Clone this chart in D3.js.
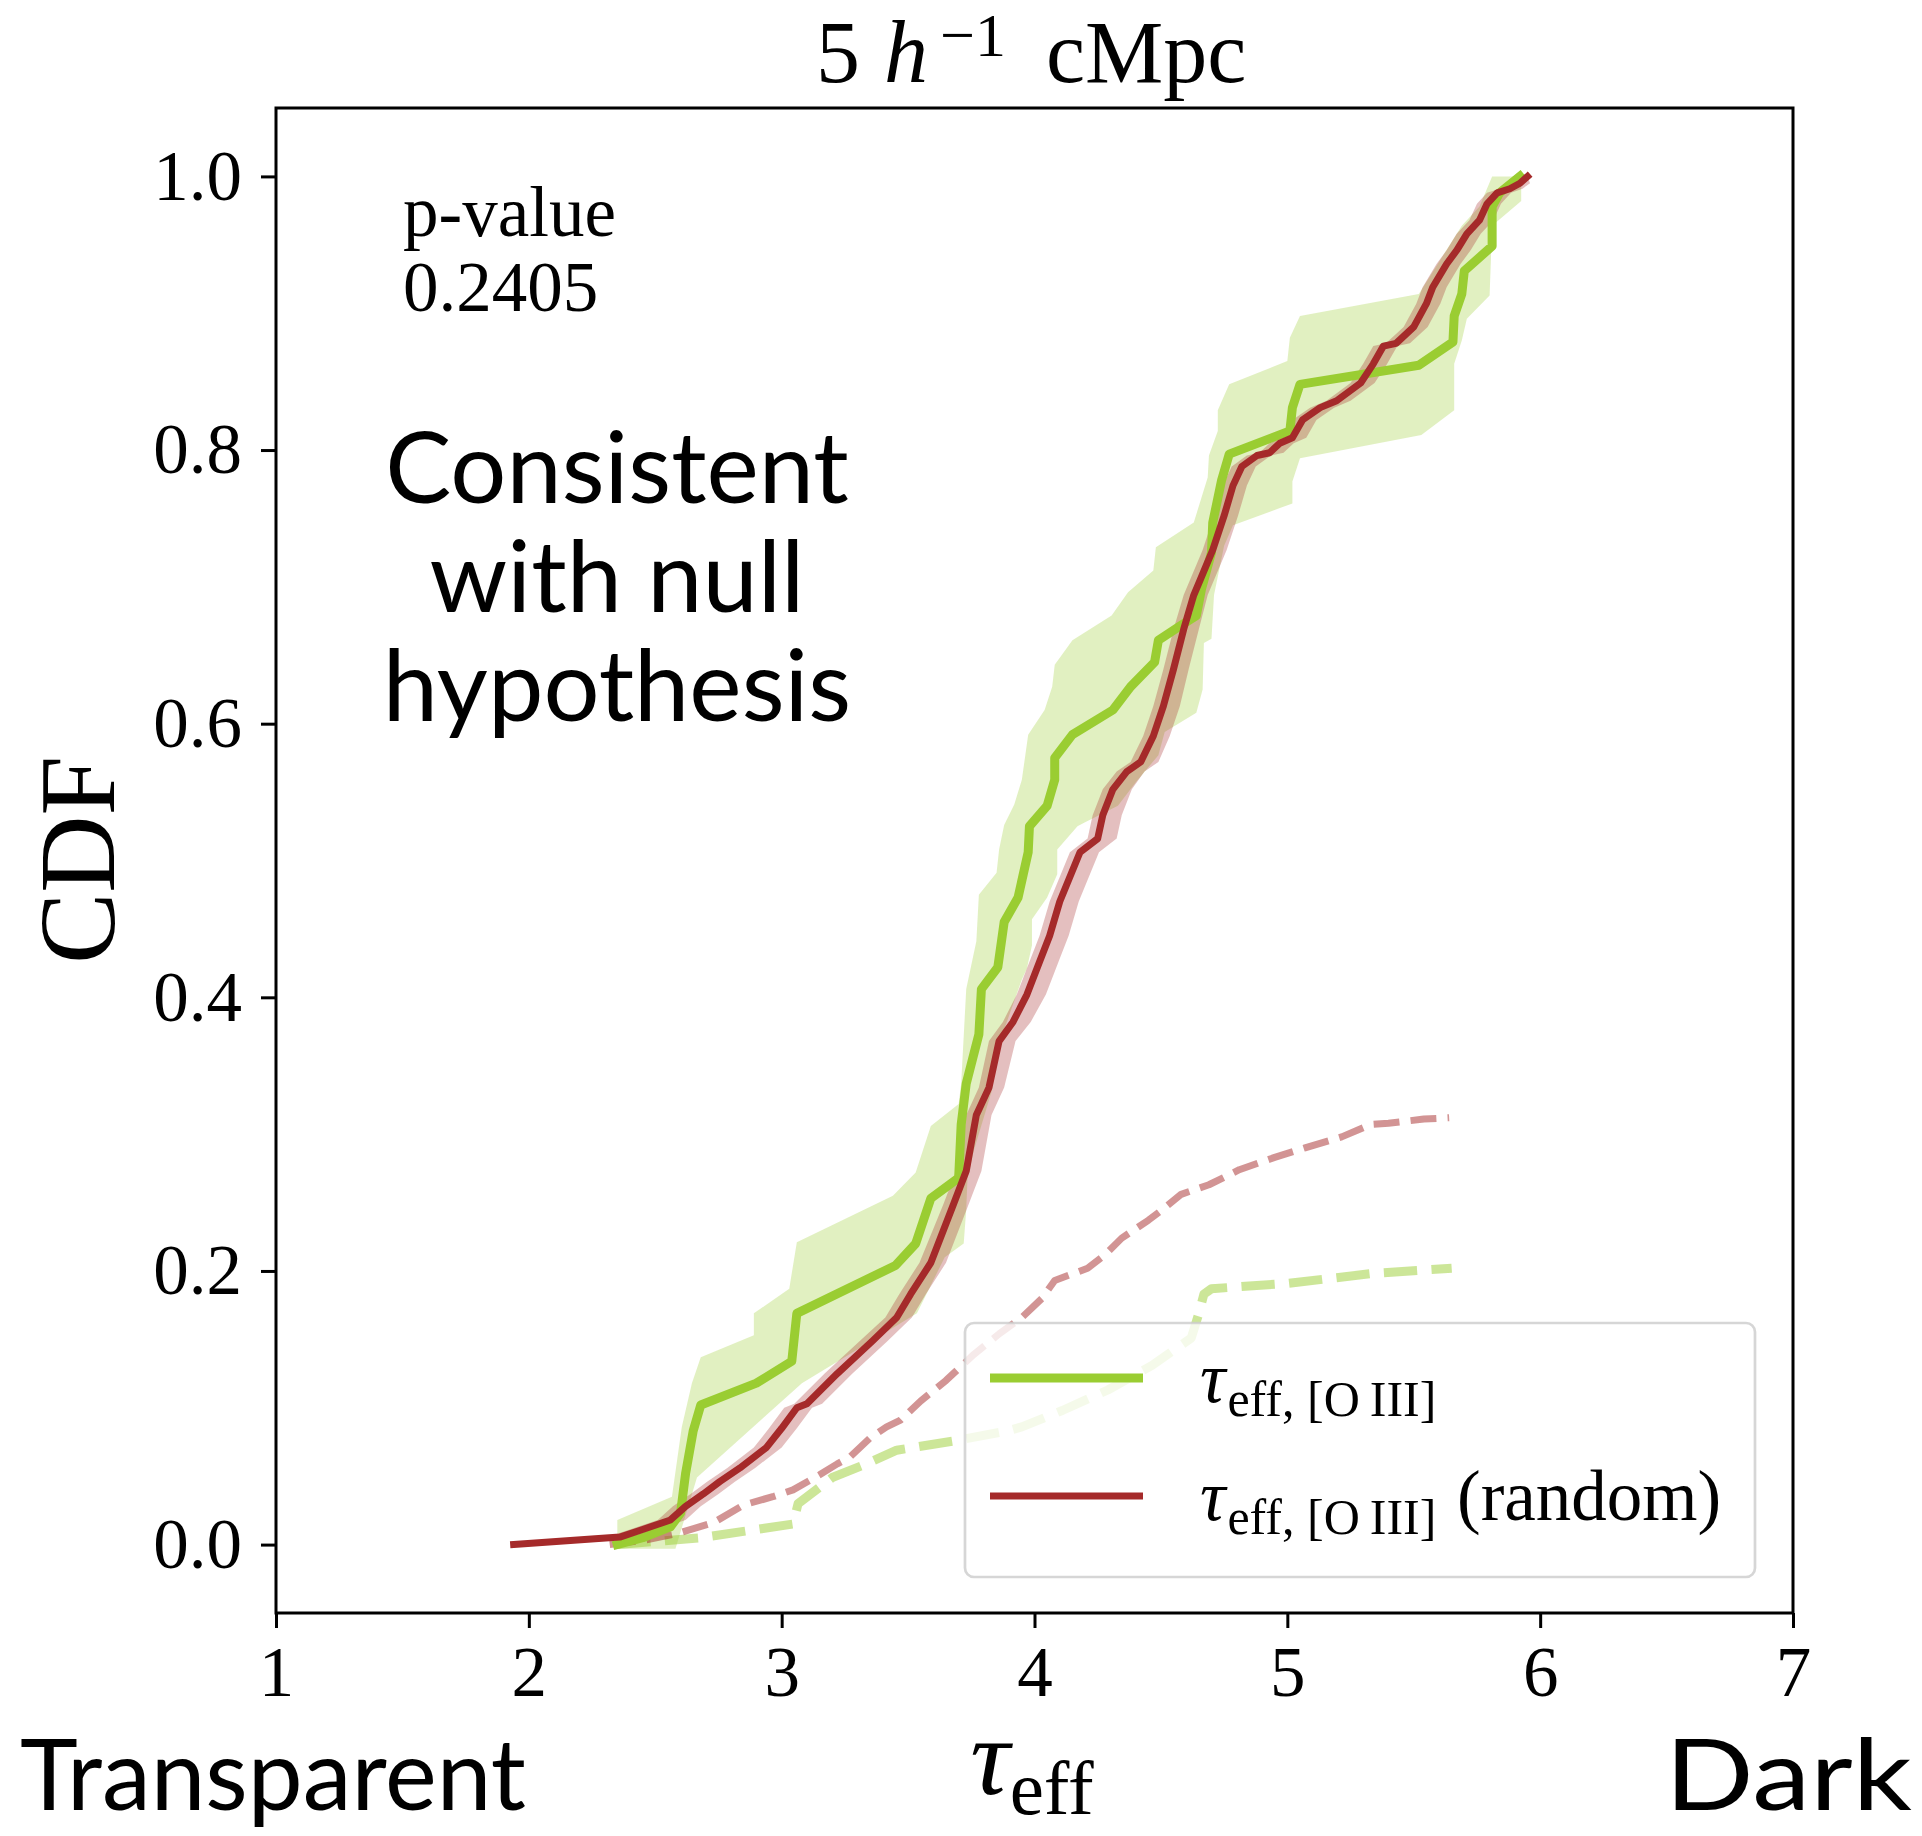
<!DOCTYPE html>
<html>
<head>
<meta charset="utf-8">
<script src="https://cdn.jsdelivr.net/npm/d3@7/dist/d3.min.js"></script>
<style>
  body { margin: 0; background: #fff; }
  svg text { font-family: "Liberation Serif", "Times New Roman", serif; fill: #000; }
  svg text.sans { font-family: Lato, "Open Sans", sans-serif; }
</style>
</head>
<body>
<div id="cdf-chart"></div>
<script>
// ---- values ----
const xTicks = [1, 2, 3, 4, 5, 6, 7];
const yTicks = [0.0, 0.2, 0.4, 0.6, 0.8, 1.0];

// tau_eff,[OIII] CDF (green)
const oiiiTau = [2.35, 2.45, 2.56, 2.60, 2.62, 2.65, 2.68, 2.90, 3.04, 3.06, 3.45, 3.53, 3.59, 3.70, 3.71, 3.73, 3.78, 3.79, 3.855, 3.88, 3.935, 3.975, 3.98, 4.05, 4.08, 4.08, 4.15, 4.31, 4.38, 4.475, 4.49, 4.58, 4.64, 4.66, 4.70, 4.705, 4.74, 4.77, 5.01, 5.02, 5.05, 5.52, 5.655, 5.66, 5.69, 5.70, 5.81, 5.81, 5.84, 5.92];
const oiiiCdf = [0.000, 0.005, 0.013, 0.023, 0.052, 0.083, 0.102, 0.118, 0.134, 0.169, 0.204, 0.220, 0.253, 0.268, 0.307, 0.337, 0.373, 0.406, 0.422, 0.455, 0.473, 0.506, 0.525, 0.540, 0.559, 0.575, 0.592, 0.610, 0.627, 0.645, 0.661, 0.672, 0.679, 0.698, 0.725, 0.747, 0.778, 0.797, 0.814, 0.831, 0.848, 0.862, 0.879, 0.898, 0.914, 0.931, 0.949, 0.978, 0.988, 1.000];

// green band, left edge (bottom -> top) and right edge (top -> bottom)
const oiiiBandLeftX = [2.35, 2.35, 2.566, 2.605, 2.645, 2.68, 2.89, 2.89, 3.03, 3.06, 3.44, 3.53, 3.59, 3.70, 3.71, 3.73, 3.77, 3.78, 3.85, 3.86, 3.88, 3.92, 3.95, 3.975, 4.04, 4.07, 4.08, 4.15, 4.305, 4.37, 4.47, 4.48, 4.63, 4.685, 4.69, 4.725, 4.725, 4.77, 5.00, 5.01, 5.05, 5.52, 5.69, 5.76, 5.81];
const oiiiBandLeftY = [-0.003, 0.018, 0.035, 0.086, 0.118, 0.137, 0.153, 0.169, 0.187, 0.221, 0.255, 0.272, 0.306, 0.322, 0.337, 0.406, 0.441, 0.475, 0.491, 0.508, 0.526, 0.541, 0.559, 0.592, 0.610, 0.627, 0.643, 0.661, 0.679, 0.696, 0.712, 0.729, 0.747, 0.780, 0.796, 0.814, 0.829, 0.848, 0.865, 0.882, 0.898, 0.914, 0.964, 0.978, 1.000];
const oiiiBandRightX = [5.925, 5.925, 5.81, 5.80, 5.71, 5.69, 5.66, 5.66, 5.53, 5.05, 5.02, 5.02, 4.785, 4.75, 4.71, 4.70, 4.67, 4.665, 4.64, 4.515, 4.49, 4.40, 4.33, 4.20, 4.17, 4.09, 4.09, 4.05, 3.99, 3.99, 3.97, 3.95, 3.86, 3.83, 3.76, 3.735, 3.73, 3.72, 3.645, 3.535, 3.08, 2.665, 2.58];
const oiiiBandRightY = [1.000, 0.982, 0.964, 0.913, 0.896, 0.880, 0.863, 0.829, 0.811, 0.794, 0.777, 0.761, 0.745, 0.730, 0.694, 0.662, 0.659, 0.625, 0.608, 0.594, 0.577, 0.557, 0.540, 0.528, 0.525, 0.508, 0.490, 0.473, 0.457, 0.438, 0.421, 0.413, 0.366, 0.331, 0.288, 0.268, 0.245, 0.220, 0.210, 0.169, 0.118, 0.049, -0.003];

// tau_eff,[OIII] (random) CDF (red) with its band
const randomTau = [1.94, 2.36, 2.45, 2.56, 2.62, 2.69, 2.755, 2.835, 2.94, 3.00, 3.06, 3.10, 3.22, 3.36, 3.455, 3.51, 3.59, 3.68, 3.73, 3.77, 3.82, 3.86, 3.915, 3.97, 4.02, 4.06, 4.10, 4.18, 4.25, 4.27, 4.31, 4.365, 4.42, 4.47, 4.51, 4.55, 4.59, 4.63, 4.655, 4.705, 4.75, 4.785, 4.82, 4.88, 4.93, 4.97, 5.02, 5.06, 5.13, 5.195, 5.29, 5.34, 5.38, 5.43, 5.50, 5.55, 5.575, 5.63, 5.67, 5.71, 5.76, 5.79, 5.83, 5.88, 5.92, 5.95];
const randomCdf = [0.000, 0.0055, 0.011, 0.018, 0.028, 0.037, 0.046, 0.056, 0.071, 0.085, 0.100, 0.103, 0.125, 0.149, 0.166, 0.183, 0.206, 0.249, 0.273, 0.314, 0.334, 0.368, 0.382, 0.402, 0.426, 0.445, 0.470, 0.506, 0.516, 0.533, 0.552, 0.565, 0.572, 0.591, 0.613, 0.640, 0.669, 0.694, 0.705, 0.727, 0.752, 0.774, 0.788, 0.796, 0.798, 0.805, 0.809, 0.822, 0.831, 0.836, 0.849, 0.863, 0.876, 0.878, 0.890, 0.907, 0.919, 0.936, 0.946, 0.958, 0.968, 0.980, 0.988, 0.991, 0.995, 1.000];
const randomLo = [1.94, 2.31, 2.40, 2.51, 2.57, 2.64, 2.705, 2.785, 2.89, 2.95, 3.01, 3.05, 3.17, 3.31, 3.41, 3.465, 3.545, 3.64, 3.69, 3.73, 3.78, 3.82, 3.875, 3.93, 3.98, 4.02, 4.06, 4.14, 4.21, 4.23, 4.27, 4.325, 4.38, 4.43, 4.47, 4.51, 4.55, 4.59, 4.615, 4.665, 4.71, 4.745, 4.78, 4.84, 4.89, 4.93, 4.98, 5.02, 5.09, 5.155, 5.25, 5.30, 5.34, 5.39, 5.46, 5.51, 5.535, 5.59, 5.63, 5.67, 5.72, 5.75, 5.79, 5.84, 5.88, 5.95];
const randomHi = [1.94, 2.42, 2.51, 2.62, 2.68, 2.75, 2.815, 2.895, 3.00, 3.06, 3.12, 3.16, 3.28, 3.42, 3.515, 3.57, 3.65, 3.74, 3.79, 3.83, 3.88, 3.925, 3.985, 4.045, 4.095, 4.135, 4.175, 4.255, 4.325, 4.345, 4.385, 4.435, 4.49, 4.535, 4.575, 4.61, 4.65, 4.685, 4.71, 4.76, 4.805, 4.84, 4.875, 4.935, 4.985, 5.025, 5.075, 5.115, 5.185, 5.25, 5.345, 5.395, 5.435, 5.485, 5.555, 5.605, 5.63, 5.685, 5.725, 5.765, 5.815, 5.845, 5.885, 5.93, 5.96, 5.95];

// faint dashed curves
const oiiiDashTau = [2.35, 2.68, 3.045, 3.065, 3.20, 3.335, 3.455, 3.69, 3.89, 3.95, 4.11, 4.29, 4.465, 4.62, 4.65, 4.67, 4.70, 5.005, 5.33, 5.65];
const oiiiDashCdf = [0.000, 0.005, 0.015, 0.030, 0.049, 0.059, 0.069, 0.076, 0.083, 0.086, 0.098, 0.113, 0.131, 0.151, 0.169, 0.183, 0.187, 0.191, 0.198, 0.202];
const randomDashTau = [2.32, 2.45, 2.585, 2.73, 2.85, 2.965, 3.045, 3.15, 3.22, 3.27, 3.35, 3.415, 3.47, 3.55, 3.65, 3.76, 3.86, 3.95, 4.03, 4.08, 4.21, 4.28, 4.345, 4.45, 4.50, 4.58, 4.69, 4.81, 4.95, 5.07, 5.215, 5.33, 5.40, 5.54, 5.64];
const randomDashCdf = [0.000, 0.003, 0.008, 0.016, 0.029, 0.035, 0.040, 0.051, 0.059, 0.064, 0.078, 0.086, 0.091, 0.105, 0.120, 0.139, 0.154, 0.166, 0.180, 0.193, 0.202, 0.212, 0.224, 0.237, 0.244, 0.256, 0.263, 0.274, 0.283, 0.290, 0.298, 0.307, 0.308, 0.311, 0.312];

const pValue = "0.2405";

// ---- layout ----
const width = 1922;
const height = 1836;
const plotLeft = 276, plotRight = 1793, plotTop = 108, plotBottom = 1613;

const green = "#9acd32";
const red = "#a52a2a";
const greenWidth = 9;
const redWidth = 7;

const svg = d3.select("#cdf-chart").append("svg")
    .attr("width", width)
    .attr("height", height);

const x = d3.scaleLinear().domain([1, 7]).range([plotLeft, plotRight]);
const y = d3.scaleLinear().domain([-0.05, 1.05]).range([plotBottom, plotTop]);

svg.append("clipPath").attr("id", "plot-clip")
  .append("rect")
    .attr("x", plotLeft).attr("y", plotTop)
    .attr("width", plotRight - plotLeft).attr("height", plotBottom - plotTop);

const plot = svg.append("g").attr("clip-path", "url(#plot-clip)");

const pair = (xs, ys) => xs.map((v, i) => [v, ys[i]]);
const line = d3.line().x(d => x(d[0])).y(d => y(d[1]));

// green band
const bandPoints = pair(oiiiBandLeftX, oiiiBandLeftY).concat(pair(oiiiBandRightX, oiiiBandRightY));
plot.append("path")
    .attr("d", line(bandPoints) + "Z")
    .attr("fill", green)
    .attr("fill-opacity", 0.3);

// red band
const randomBand = randomCdf.map((c, i) => ({ c: c, lo: randomLo[i], hi: randomHi[i] }));
plot.append("path")
    .datum(randomBand)
    .attr("d", d3.area().y(d => y(d.c)).x0(d => x(d.lo)).x1(d => x(d.hi)))
    .attr("fill", red)
    .attr("fill-opacity", 0.3);

// dashed curves (matplotlib dash pattern scales with line width)
plot.append("path")
    .attr("d", line(pair(oiiiDashTau, oiiiDashCdf)))
    .attr("fill", "none")
    .attr("stroke", green)
    .attr("stroke-opacity", 0.5)
    .attr("stroke-width", greenWidth)
    .attr("stroke-dasharray", `${3.7 * greenWidth},${1.6 * greenWidth}`)
    .attr("stroke-linejoin", "round");

plot.append("path")
    .attr("d", line(pair(randomDashTau, randomDashCdf)))
    .attr("fill", "none")
    .attr("stroke", red)
    .attr("stroke-opacity", 0.5)
    .attr("stroke-width", redWidth)
    .attr("stroke-dasharray", `${3.7 * redWidth},${1.6 * redWidth}`)
    .attr("stroke-linejoin", "round");

// solid curves
plot.append("path")
    .attr("d", line(pair(oiiiTau, oiiiCdf)))
    .attr("fill", "none")
    .attr("stroke", green)
    .attr("stroke-width", greenWidth)
    .attr("stroke-linejoin", "round")
    .attr("stroke-linecap", "square");

plot.append("path")
    .attr("d", line(pair(randomTau, randomCdf)))
    .attr("fill", "none")
    .attr("stroke", red)
    .attr("stroke-width", redWidth)
    .attr("stroke-linejoin", "round")
    .attr("stroke-linecap", "square");

// axes
const xAxis = svg.append("g")
    .attr("transform", `translate(0,${plotBottom})`)
    .call(d3.axisBottom(x).tickValues(xTicks).tickFormat(d3.format("d"))
        .tickSize(15).tickSizeOuter(0).tickPadding(18));
const yAxis = svg.append("g")
    .attr("transform", `translate(${plotLeft},0)`)
    .call(d3.axisLeft(y).tickValues(yTicks).tickFormat(d3.format(".1f"))
        .tickSize(15).tickSizeOuter(0).tickPadding(19));

[xAxis, yAxis].forEach(g => {
    g.select(".domain").remove();
    g.selectAll(".tick line").attr("stroke", "#000").attr("stroke-width", 3);
    g.selectAll(".tick text")
        .style("font-family", "'Liberation Serif', 'Times New Roman', serif")
        .style("font-size", "71px")
        .attr("fill", "#000");
});

svg.append("rect")
    .attr("x", plotLeft).attr("y", plotTop)
    .attr("width", plotRight - plotLeft).attr("height", plotBottom - plotTop)
    .attr("fill", "none")
    .attr("stroke", "#000")
    .attr("stroke-width", 3);

// legend
const legend = svg.append("g");
legend.append("rect")
    .attr("x", 965).attr("y", 1323)
    .attr("width", 790).attr("height", 254)
    .attr("rx", 9).attr("ry", 9)
    .attr("fill", "#fff").attr("fill-opacity", 0.8)
    .attr("stroke", "#cccccc").attr("stroke-opacity", 0.8)
    .attr("stroke-width", 2.7);

const legendItems = [
    { color: green, width: greenWidth, extra: "", ly: 1378 },
    { color: red, width: redWidth, extra: "(random)", ly: 1496 }
];

legendItems.forEach(item => {
    legend.append("line")
        .attr("x1", 990).attr("x2", 1143)
        .attr("y1", item.ly).attr("y2", item.ly)
        .attr("stroke", item.color)
        .attr("stroke-width", item.width);

    const t = legend.append("text")
        .attr("x", 1200).attr("y", item.ly + 24)
        .style("font-size", "71px");
    t.append("tspan").style("font-style", "italic").text("τ");
    t.append("tspan").attr("dy", 14).attr("dx", 2).style("font-size", "50px").text("eff, [O\u2009III]");
    if (item.extra) {
        t.append("tspan").attr("x", 1457).attr("dy", -14).text(item.extra);
    }
});

// title
const title = svg.append("text").attr("y", 82).style("font-size", "88px");
title.append("tspan").attr("x", 816).text("5");
title.append("tspan").attr("x", 884).style("font-style", "italic").text("h");
title.append("tspan").attr("x", 940).attr("dy", -26).style("font-size", "62px").text("−1");
title.append("tspan").attr("x", 1046).attr("dy", 26).text("cMpc");

// axis labels
svg.append("text")
    .attr("transform", "translate(114,860) rotate(-90)")
    .attr("text-anchor", "middle")
    .style("font-size", "107px")
    .text("CDF");

const xlab = svg.append("text")
    .attr("x", 1032).attr("y", 1794)
    .attr("text-anchor", "middle")
    .style("font-size", "110px");
xlab.append("tspan").style("font-style", "italic").text("τ");
xlab.append("tspan").attr("dy", 20).style("font-size", "77px").text("eff");

svg.append("text").attr("class", "sans")
    .attr("x", 20).attr("y", 1810)
    .style("font-size", "98px")
    .text("Transparent");
svg.append("text").attr("class", "sans")
    .attr("x", 1665).attr("y", 1810)
    .attr("textLength", 247)
    .attr("lengthAdjust", "spacingAndGlyphs")
    .style("font-size", "98px")
    .text("Dark");

// annotations
svg.append("text").attr("x", 403).attr("y", 236).style("font-size", "71px").text("p-value");
svg.append("text").attr("x", 403).attr("y", 311).style("font-size", "71px").text(pValue);

const verdict = ["Consistent", "with null", "hypothesis"];
svg.append("g").selectAll("text")
    .data(verdict)
    .join("text")
    .attr("class", "sans")
    .attr("x", 617)
    .attr("y", (d, i) => 503 + i * 109)
    .attr("text-anchor", "middle")
    .style("font-size", "99px")
    .text(d => d);
</script>
</body>
</html>
